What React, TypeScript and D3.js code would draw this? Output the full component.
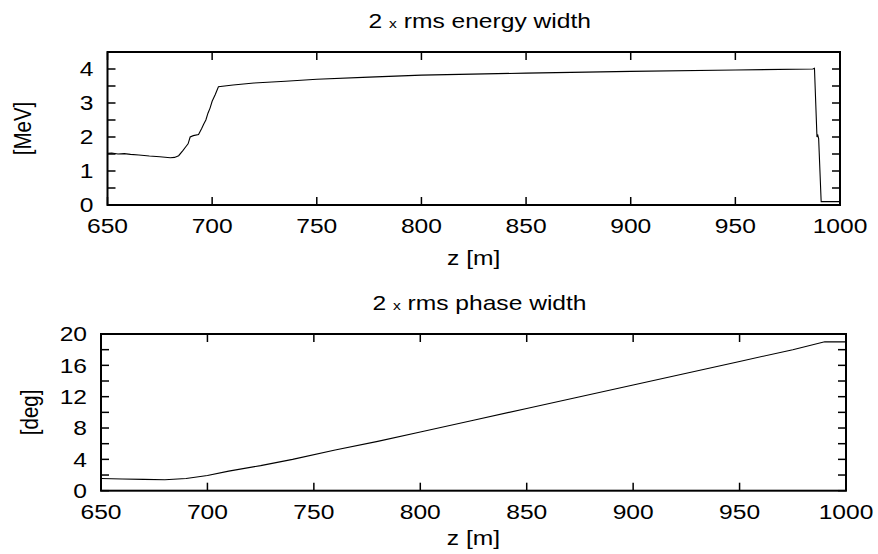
import React from "react";
import * as d3 from "d3";

const energyZ = [650, 652, 655, 658, 661, 665, 670, 675, 680, 682, 684, 686, 687.5, 688.5, 689.5, 691, 693.5, 695, 696, 697, 698, 699, 700, 701.5, 703, 710, 720, 735, 750, 775, 800, 850, 900, 950, 987, 987.8, 989, 989.4, 989.8, 991, 1000];
const energyW = [1.52, 1.53, 1.5, 1.51, 1.49, 1.47, 1.44, 1.42, 1.39, 1.4, 1.45, 1.6, 1.72, 1.8, 2.0, 2.04, 2.07, 2.25, 2.38, 2.5, 2.7, 2.85, 3.05, 3.25, 3.48, 3.53, 3.59, 3.64, 3.7, 3.76, 3.82, 3.88, 3.93, 3.97, 4.0, 4.02, 2.0, 2.05, 1.95, 0.1, 0.1];

const phaseZ = [650, 660, 670, 680, 690, 700, 710, 725, 740, 760, 780, 800, 825, 850, 875, 900, 925, 950, 975, 990, 1000];
const phaseW = [1.55, 1.5, 1.45, 1.4, 1.55, 1.95, 2.5, 3.2, 4.0, 5.2, 6.3, 7.5, 9.0, 10.5, 12.0, 13.5, 15.0, 16.5, 18.0, 19.0, 19.0];

const xTicks = [650, 700, 750, 800, 850, 900, 950, 1000];
const energyTicks = [0, 0.5, 1, 1.5, 2, 2.5, 3, 3.5, 4];
const energyLabels = [0, 1, 2, 3, 4];
const phaseTicks = [0, 2, 4, 6, 8, 10, 12, 14, 16, 18, 20];
const phaseLabels = [0, 4, 8, 12, 16, 20];

const FONT = "'Liberation Sans', Arial, sans-serif";
const SX = 1.2;

function T({ x, y, anchor = "middle", size = 20.5, rotate = 0, children }: any) {
  const tr = `translate(${x},${y}) scale(${SX},1)` + (rotate ? ` rotate(${rotate})` : "");
  return (
    <text transform={tr} textAnchor={anchor} fontFamily={FONT} fontSize={size} fill="#000">
      {children}
    </text>
  );
}

function Panel({ box, yMax, zs, ws, yTicks, yLabels, title, titleY, ylabel, ylabelX, xlabelY, xTickY }: any) {
  const x = d3.scaleLinear().domain([650, 1000]).range([box.x0, box.x1]);
  const y = d3.scaleLinear().domain([0, yMax]).range([box.y1, box.y0]);
  const line = d3
    .line<number>()
    .x((_, i) => x(zs[i]))
    .y((d) => y(d));
  const tl = 8;
  const cx = (box.x0 + box.x1) / 2;
  return (
    <g>
      <path d={line(ws) || ""} fill="none" stroke="#000" strokeWidth={1.1} />
      {xTicks.map((t) => (
        <g key={"x" + t}>
          <line x1={x(t)} x2={x(t)} y1={box.y1} y2={box.y1 - tl} stroke="#000" strokeWidth={1.5} />
          <line x1={x(t)} x2={x(t)} y1={box.y0} y2={box.y0 + tl} stroke="#000" strokeWidth={1.5} />
          <T x={x(t)} y={xTickY}>{t}</T>
        </g>
      ))}
      {yTicks.map((t: number) => (
        <g key={"y" + t}>
          <line x1={box.x0} x2={box.x0 + tl} y1={y(t)} y2={y(t)} stroke="#000" strokeWidth={1.5} />
          <line x1={box.x1} x2={box.x1 - tl} y1={y(t)} y2={y(t)} stroke="#000" strokeWidth={1.5} />
        </g>
      ))}
      {yLabels.map((t: number) => (
        <T key={"yl" + t} x={box.x0 - 14} y={y(t) + 7.3} anchor="end">{t}</T>
      ))}
      <rect x={box.x0} y={box.y0} width={box.x1 - box.x0} height={box.y1 - box.y0} fill="none" stroke="#000" strokeWidth={2} />
      <T x={cx + 6} y={titleY}>
        {title[0]}
        <tspan fontSize={13}>{title[1]}</tspan>
        {title[2]}
      </T>
      <T x={ylabelX} y={(box.y0 + box.y1) / 2} rotate={-90}>{ylabel}</T>
      <T x={cx} y={xlabelY}>z [m]</T>
    </g>
  );
}

export default function App() {
  return (
    <svg width={878} height={554} style={{ position: "absolute", left: 0, top: 0, background: "#fff" }}>
      <rect x={0} y={0} width={878} height={554} fill="#fff" />
      <Panel
        box={{ x0: 107.5, x1: 840, y0: 52, y1: 205 }}
        yMax={4.5}
        zs={energyZ}
        ws={energyW}
        yTicks={energyTicks}
        yLabels={energyLabels}
        title={["2 ", "x", " rms energy width"]}
        titleY={28}
        ylabel="[MeV]"
        ylabelX={31}
        xlabelY={265}
        xTickY={233}
      />
      <Panel
        box={{ x0: 101, x1: 846, y0: 334, y1: 490.7 }}
        yMax={20}
        zs={phaseZ}
        ws={phaseW}
        yTicks={phaseTicks}
        yLabels={phaseLabels}
        title={["2 ", "x", " rms phase width"]}
        titleY={310}
        ylabel="[deg]"
        ylabelX={38}
        xlabelY={545}
        xTickY={519}
      />
    </svg>
  );
}
